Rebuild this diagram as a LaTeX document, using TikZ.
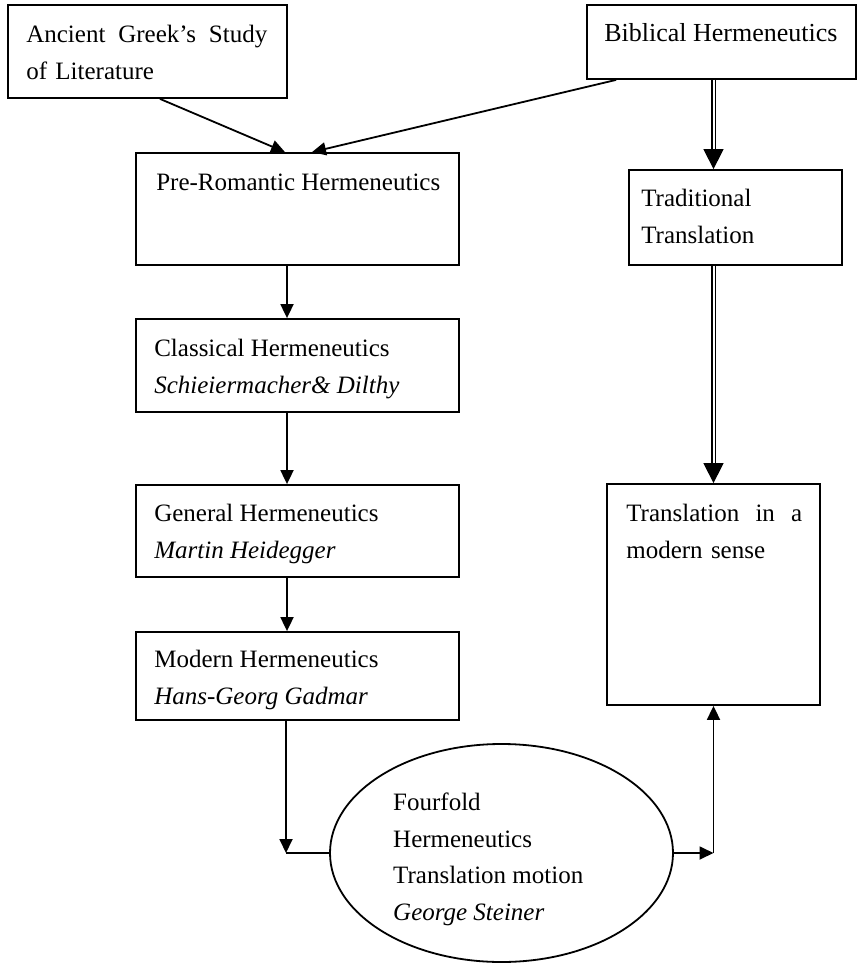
\documentclass[tikz,border=0pt]{standalone}
\usepackage{fontspec}
\setmainfont{Liberation Serif}
\usetikzlibrary{arrows.meta,shapes.geometric}

\tikzset{
  box/.style={draw, line width=1.8pt, inner sep=0pt},
  txt/.style={anchor=north west, inner sep=0pt, align=left, font=\fontsize{25}{36.5}\selectfont},
  link/.style={line width=1.8pt, -{Triangle[width=13pt,length=14pt]}},
  dbl/.style={double, double distance=2pt, line width=1.4pt},
  bigtip/.style={line width=1.4pt, -{Triangle[width=20pt,length=20pt]}}
}

\begin{document}
\begin{tikzpicture}[x=1pt,y=-1pt]
        \useasboundingbox (0,0) rectangle (858,964);

        % boxes
        \node[box, minimum width=279pt, minimum height=93pt] (greek) at (147.5,51.5) {};
        \node[box, minimum width=269pt, minimum height=74pt] (bible) at (721.5,42) {};
        \node[box, minimum width=323pt, minimum height=112pt] (prerom) at (297.5,209) {};
        \node[box, minimum width=213pt, minimum height=95pt] (trad) at (735.5,217.5) {};
        \node[box, minimum width=323pt, minimum height=93pt] (classic) at (297.5,365.5) {};
        \node[box, minimum width=323pt, minimum height=92pt] (general) at (297.5,531) {};
        \node[box, minimum width=323pt, minimum height=88pt] (modern) at (297.5,676) {};
        \node[box, minimum width=213pt, minimum height=221pt] (modsense) at (713.5,594.5) {};
        \node[box, ellipse, minimum width=343pt, minimum height=218pt] (fold) at (501.5,853) {};

        % texts
        \node[txt, text width=241pt] (greektxt) at ([shift={(19,21)}]greek.north west) {Ancient\hfill Greek’s\hfill Study\\of Literature};
        \node[txt, font=\fontsize{26}{30}\selectfont] (bibletxt) at ([shift={(18,19)}]bible.north west) {Biblical Hermeneutics};
        \node[txt] (preromtxt) at ([shift={(21,22)}]prerom.north west) {Pre-Romantic Hermeneutics};
        \node[txt] (tradtxt) at ([shift={(13,20)}]trad.north west) {Traditional\\Translation};
        \node[txt] (classictxt) at ([shift={(19,21)}]classic.north west) {Classical Hermeneutics\\\textit{Schieiermacher\& Dilthy}};
        \node[txt] (generaltxt) at ([shift={(19,20)}]general.north west) {General Hermeneutics\\\textit{Martin Heidegger}};
        \node[txt] (moderntxt) at ([shift={(19,19)}]modern.north west) {Modern Hermeneutics\\\textit{Hans-Georg Gadmar}};
        \node[txt, text width=176pt] (modsensetxt) at ([shift={(20,21)}]modsense.north west) {Translation\hfill in\hfill a\\modern sense};
        \node[txt] (foldtxt) at ([shift={(-108.5,-60)}]fold.center) {Fourfold\\Hermeneutics\\Translation motion\\\textit{George Steiner}};

        % left column
        \draw[link] ([xshift=12.5pt]greek.south) -- ([xshift=-12.5pt]prerom.north);
        \draw[link] ([xshift=30pt]bible.south west) -- ([xshift=14.5pt]prerom.north);
        \draw[link] ([xshift=-10.5pt]prerom.south) -- ([xshift=-10.5pt]classic.north);
        \draw[link] ([xshift=-10.5pt]classic.south) -- ([xshift=-10.5pt]general.north);
        \draw[link] ([xshift=-10.5pt]general.south) -- ([xshift=-10.5pt]modern.north);

        \coordinate (mx) at ([xshift=-11.5pt]modern.south);
        \coordinate (lc) at (mx |- fold.west);
        \coordinate (rc) at (modsense.south |- fold.east);
        \draw[link] (mx) -- (lc);
        \draw[line width=1.8pt] (lc) -- (fold.west);
        \draw[link] (fold.east) -- (rc);
        \draw[link] (rc) -- (modsense.south);

        % right column
        \coordinate (b1) at (bible.south -| modsense.north);
        \coordinate (t1) at (trad.north -| modsense.north);
        \coordinate (t2) at (trad.south -| modsense.north);
        \draw[dbl] (b1) -- ([yshift=18pt]t1);
        \draw[bigtip] ([yshift=20pt]t1) -- (t1);
        \draw[dbl] (t2) -- ([yshift=18pt]modsense.north);
        \draw[bigtip] ([yshift=20pt]modsense.north) -- (modsense.north);
\end{tikzpicture}
\end{document}
